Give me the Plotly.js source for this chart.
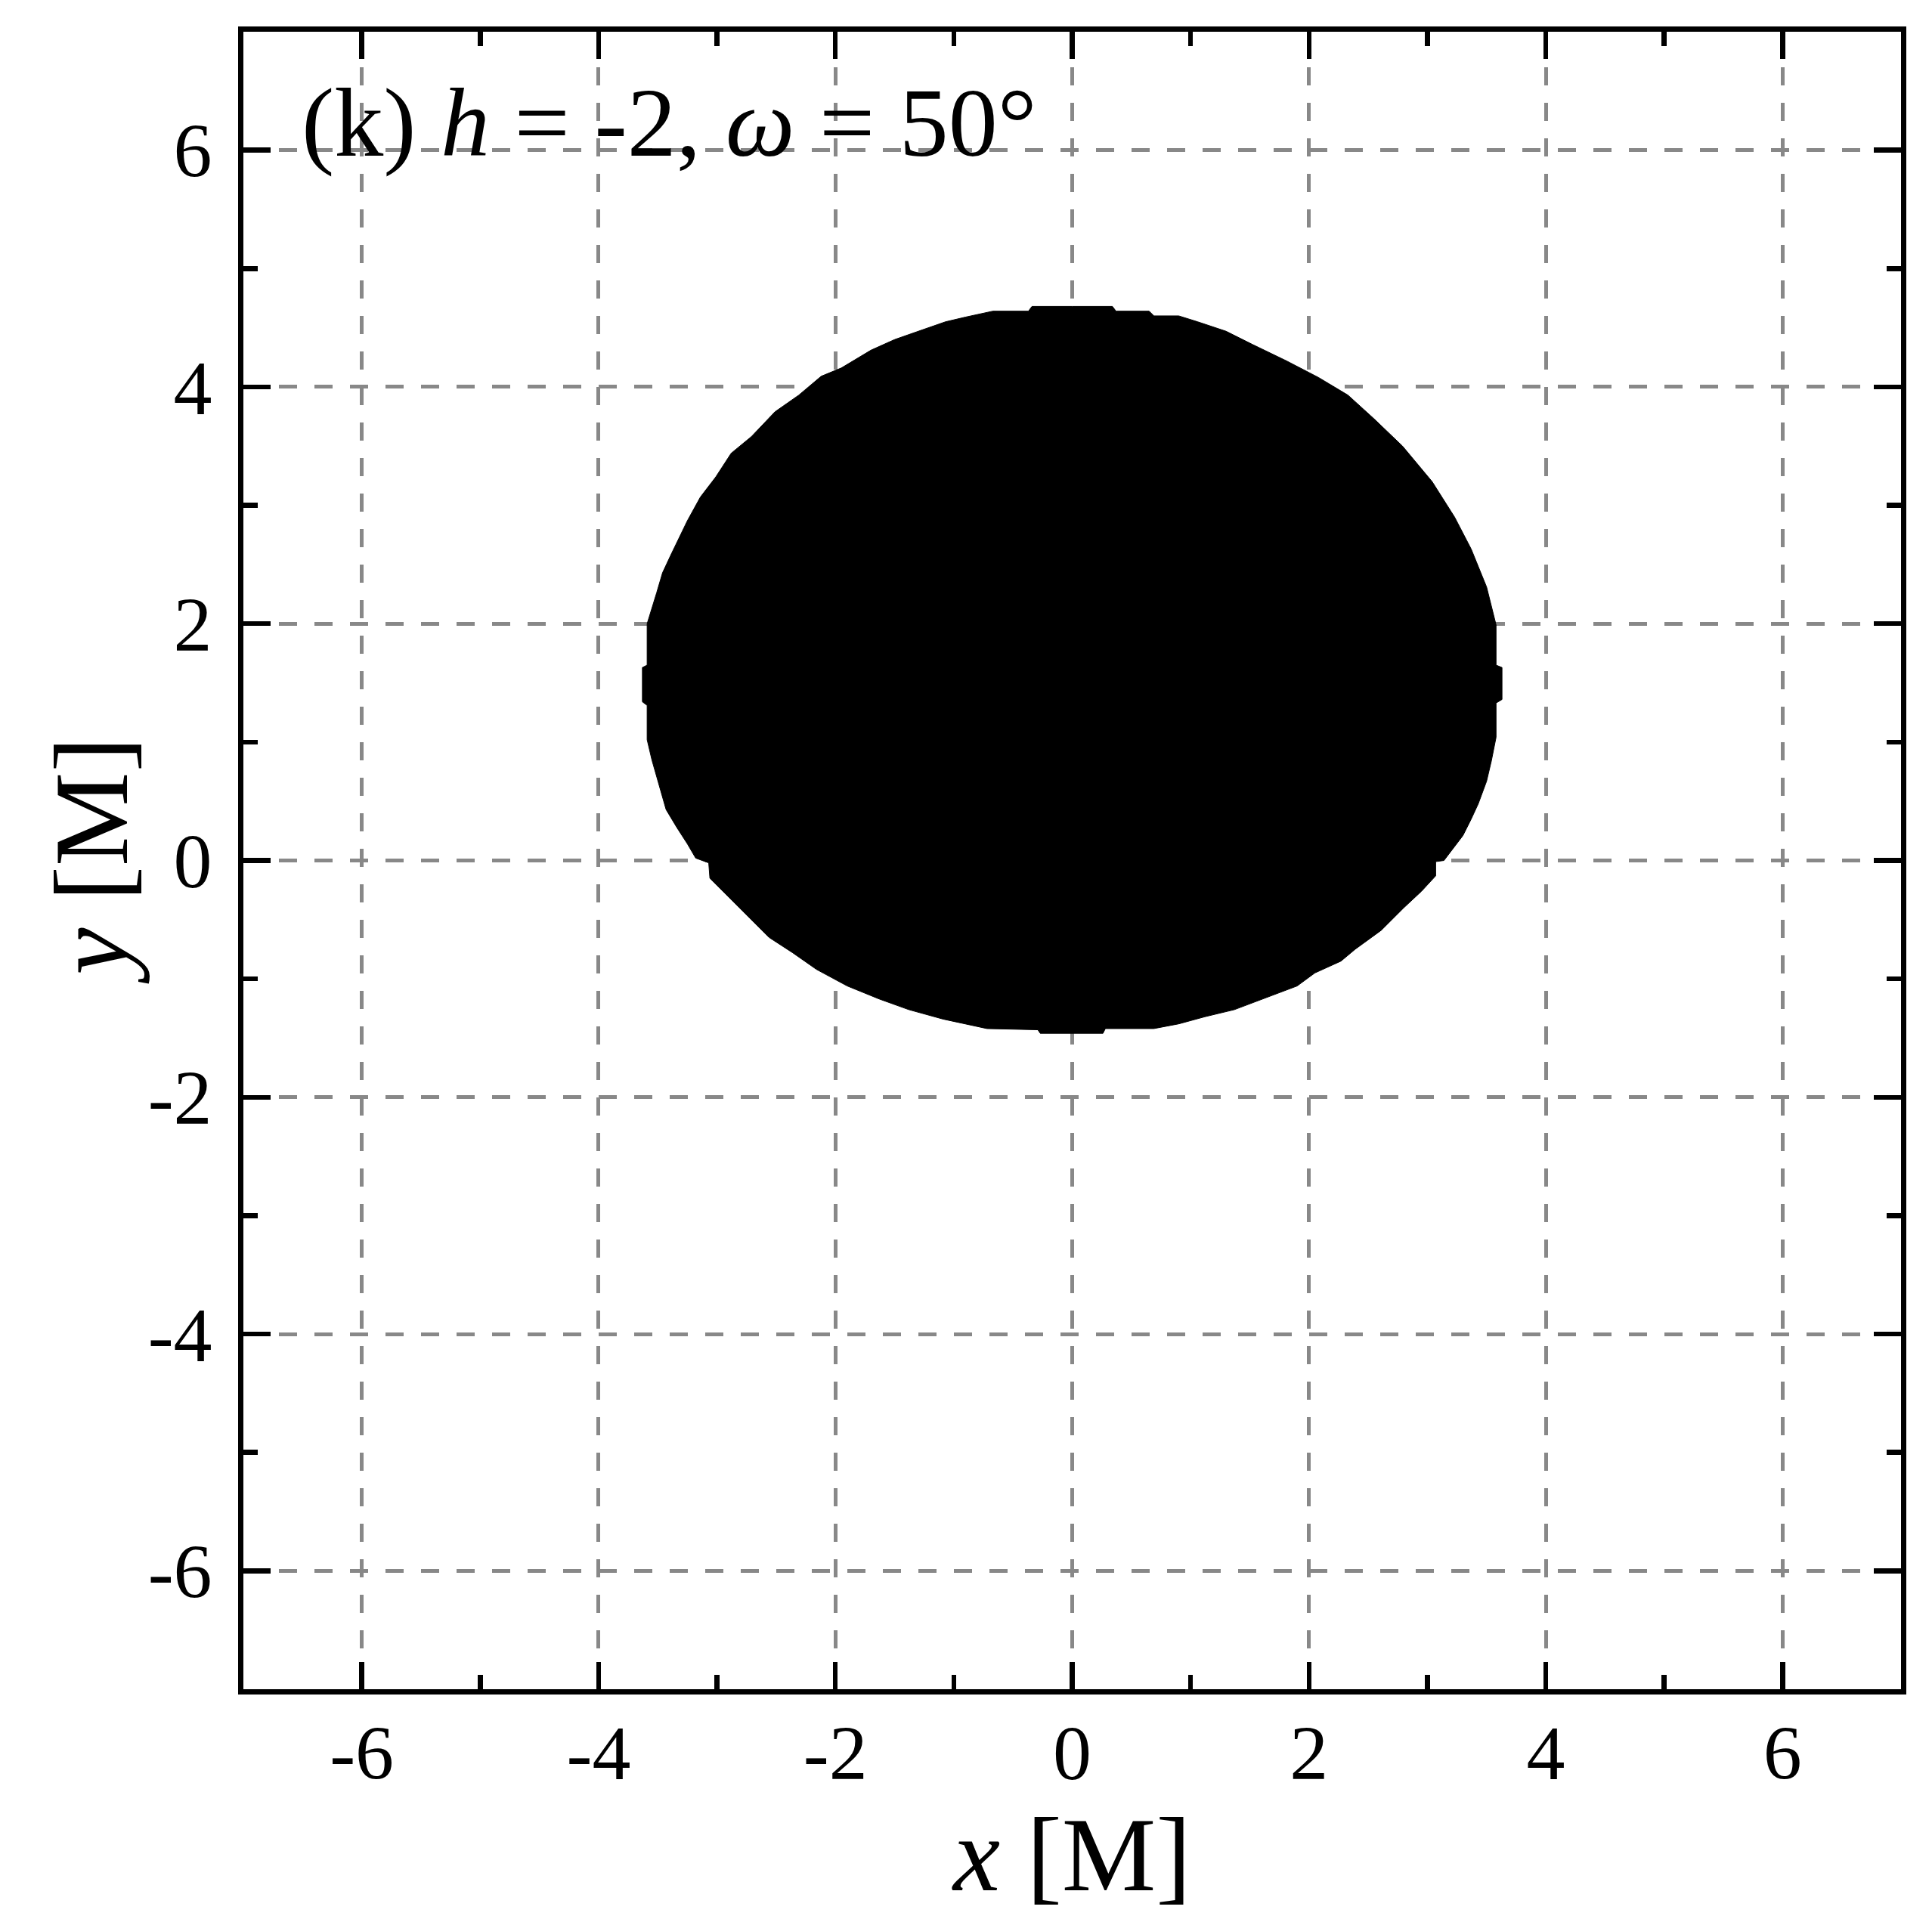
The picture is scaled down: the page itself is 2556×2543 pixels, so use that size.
<!DOCTYPE html>
<html>
<head>
<meta charset="utf-8">
<script src="https://cdn.plot.ly/plotly-3.0.1.min.js"></script>
<style>
  html, body { margin: 0; padding: 0; background: #ffffff; }
  #chart { width: 2556px; height: 2543px; }
</style>
</head>
<body>
<div id="chart"></div>
<script>
// Boundary of the black (shadow) region, clockwise from top
const shadowX = [0.00, 0.34, 0.37, 0.65, 0.69, 0.90, 1.06, 1.30, 1.52, 1.81, 2.08, 2.33, 2.55, 2.79, 3.04, 3.23, 3.37, 3.50, 3.58, 3.58, 3.63, 3.63, 3.58, 3.58, 3.54, 3.50, 3.43, 3.37, 3.30, 3.20, 3.14, 3.07, 3.07, 2.95, 2.80, 2.61, 2.39, 2.27, 2.05, 1.90, 1.69, 1.37, 1.12, 0.90, 0.69, 0.28, 0.26,
  -0.27, -0.29, -0.72, -1.09, -1.38, -1.63, -1.90, -2.16, -2.36, -2.56, -2.73, -2.90, -3.06, -3.07, -3.18, -3.25, -3.34, -3.43, -3.51, -3.55, -3.59, -3.59, -3.63, -3.63, -3.59, -3.59, -3.51, -3.46, -3.39, -3.25, -3.14, -3.01, -2.88, -2.71, -2.51, -2.31, -2.12, -1.95, -1.70, -1.50, -1.30, -1.07, -0.90, -0.67, -0.37, -0.34, 0.00];
const shadowY = [4.68, 4.68, 4.64, 4.64, 4.60, 4.60, 4.55, 4.47, 4.36, 4.22, 4.08, 3.93, 3.73, 3.50, 3.20, 2.90, 2.63, 2.31, 1.99, 1.65, 1.63, 1.36, 1.33, 1.04, 0.84, 0.67, 0.48, 0.35, 0.21, 0.08, 0.00, -0.01, -0.13, -0.26, -0.40, -0.59, -0.75, -0.85, -0.95, -1.06, -1.14, -1.26, -1.32, -1.38, -1.42, -1.42, -1.46,
  -1.46, -1.43, -1.42, -1.34, -1.26, -1.17, -1.06, -0.92, -0.78, -0.65, -0.48, -0.31, -0.15, -0.02, 0.02, 0.14, 0.28, 0.43, 0.70, 0.85, 1.02, 1.31, 1.34, 1.63, 1.65, 2.00, 2.26, 2.43, 2.58, 2.87, 3.07, 3.24, 3.44, 3.58, 3.79, 3.93, 4.09, 4.16, 4.31, 4.40, 4.47, 4.55, 4.59, 4.64, 4.64, 4.68, 4.68];

// Axis ticks
const majorTickVals = [-6, -4, -2, 0, 2, 4, 6];
const majorTickText = ["-6", "-4", "-2", "0", "2", "4", "6"];
const minorTickVals = [-7, -5, -3, -1, 1, 3, 5, 7];
const axisRange = [-7, 7];

const xTitle = "<i>x</i> [M]";
const yTitle = "<i>y</i> [M]";
const panelLabel = "(k) <i>h</i> = -2, <i>ω</i> = 50°";

const FONT = "Liberation Serif, Times New Roman, serif";

const traces = [{
  type: "scatter",
  mode: "lines",
  x: shadowX,
  y: shadowY,
  fill: "toself",
  fillcolor: "#000000",
  line: { color: "#000000", width: 1 },
  hoverinfo: "skip",
  showlegend: false
}];

function axisCommon(titleText, standoff) {
  const ax = {
    range: axisRange,
    autorange: false,
    fixedrange: true,
    showline: true,
    linecolor: "#000000",
    linewidth: 7,
    mirror: "ticks",
    ticks: "inside",
    ticklen: 36,
    tickwidth: 6.5,
    tickcolor: "#000000",
    tickmode: "array",
    tickvals: majorTickVals,
    ticktext: majorTickText,
    tickfont: { family: FONT, size: 102, color: "#000000" },
    showgrid: true,
    gridcolor: "#888888",
    gridwidth: 5,
    griddash: "24px,23px",
    zeroline: false,
    minor: {
      tickmode: "array",
      tickvals: minorTickVals,
      ticks: "inside",
      ticklen: 19,
      tickwidth: 6.5,
      tickcolor: "#000000",
      showgrid: false
    },
    automargin: false
  };
  ax.title = { text: titleText, font: { family: FONT, size: 140, color: "#000000" }, standoff: standoff };
  return ax;
}

const xaxis = axisCommon(xTitle, 9);
xaxis.ticklabelstandoff = -10;
// y title drawn as a rotated annotation below for exact placement
const yaxis = axisCommon("", 0);
yaxis.ticklabelstandoff = 14;

const layout = {
  width: 2556,
  height: 2543,
  margin: { l: 322, r: 41, t: 42, b: 308, pad: 0 },
  paper_bgcolor: "#ffffff",
  plot_bgcolor: "#ffffff",
  showlegend: false,
  xaxis: xaxis,
  yaxis: yaxis,
  annotations: [{
    text: panelLabel,
    xref: "paper", yref: "paper",
    x: 0.034, y: 0.979,
    xanchor: "left", yanchor: "top",
    showarrow: false,
    font: { family: FONT, size: 130, color: "#000000" }
  }, {
    text: yTitle,
    xref: "paper", yref: "paper",
    x: -0.092, y: 0.5,
    xanchor: "center", yanchor: "middle",
    textangle: -90,
    showarrow: false,
    font: { family: FONT, size: 140, color: "#000000" }
  }]
};

Plotly.newPlot("chart", traces, layout, { staticPlot: true, displayModeBar: false });
</script>
</body>
</html>
